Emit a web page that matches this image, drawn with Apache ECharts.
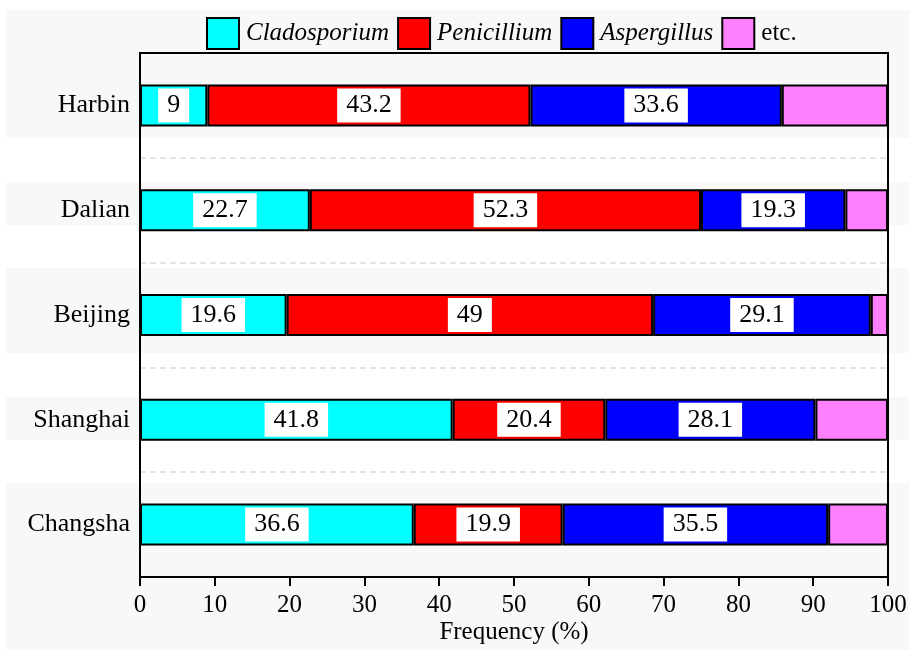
<!DOCTYPE html>
<html><head><meta charset="utf-8">
<script src="https://cdn.jsdelivr.net/npm/echarts@6/dist/echarts.min.js"></script>
<style>html,body{margin:0;padding:0;background:#fff}#c{width:909px;height:650px}</style>
</head><body><div id="c"></div>
<script>
const cities = ['Harbin','Dalian','Beijing','Shanghai','Changsha'];
const cladosporium = [9, 22.7, 19.6, 41.8, 36.6];
const penicillium = [43.2, 52.3, 49, 20.4, 19.9];
const aspergillus = [33.6, 19.3, 29.1, 28.1, 35.5];
const etc = [14.2, 5.7, 2.3, 9.7, 8.0];
const xTicks = [0,10,20,30,40,50,60,70,80,90,100];

const FONT = 'Liberation Serif';
const chart = echarts.init(document.getElementById('c'));
function mk(name, data, color, showLabel){
  return {
    name, type:'bar', stack:'t', data, barWidth: 42,
    itemStyle:{color, borderColor:'#000', borderWidth:2},
    label:{show:showLabel, position:'inside', color:'#000', fontFamily:FONT, fontSize:26,
      backgroundColor:'#fff', padding:[5,9,3,9]},
    emphasis:{disabled:true}
  };
}
const stripes = [[10,138],[182,225],[268,353],[397,440],[483,650]].map(s=>({
  type:'rect', left:6, top:s[0], z:-10, silent:true,
  shape:{x:0,y:0,width:903,height:s[1]-s[0]}, style:{fill:'#f8f8f8'}
}));
chart.setOption({
  animation:false,
  backgroundColor:'#fff',
  graphic: stripes,
  legend:{
    left:201, top:12, itemWidth:32, itemHeight:31, itemGap:8,
    icon:'rect',
    textStyle:{fontFamily:FONT, fontSize:25, color:'#000', padding:[0,0,0,2]},
    data:[
      {name:'Cladosporium', textStyle:{fontStyle:'italic'}},
      {name:'Penicillium', textStyle:{fontStyle:'italic'}},
      {name:'Aspergillus', textStyle:{fontStyle:'italic', padding:[0,12,0,2]}},
      {name:'etc.'}
    ]
  },
  grid:{left:140, right:21, top:53, bottom:73, outerBoundsMode:'none', containLabel:false,
    show:true, borderColor:'#000', borderWidth:2, backgroundColor:'transparent'},
  xAxis:{
    type:'value', min:0, max:100, interval:10,
    name:'Frequency (%)', nameLocation:'middle', nameGap:43, nameMoveOverlap:false,
    nameTextStyle:{fontFamily:FONT, fontSize:25, color:'#000'},
    axisLine:{show:true, lineStyle:{color:'#000', width:2}},
    axisTick:{show:true, length:9, lineStyle:{color:'#000', width:2}},
    axisLabel:{fontFamily:FONT, fontSize:25, color:'#000', margin:16,
      formatter:v=>xTicks.includes(v)?String(v):''},
    splitLine:{show:false}
  },
  yAxis:{
    type:'category', data:cities, inverse:true,
    axisLine:{show:true, lineStyle:{color:'#000', width:2}},
    axisTick:{show:false},
    axisLabel:{fontFamily:FONT, fontSize:26, color:'#000', margin:10},
    splitLine:{show:true, showMinLine:false, showMaxLine:false, lineStyle:{color:'#dcdcdc', type:[6,4], width:1.5}}
  },
  series:[
    mk('Cladosporium', cladosporium, '#00ffff', true),
    mk('Penicillium', penicillium, '#ff0000', true),
    mk('Aspergillus', aspergillus, '#0000ff', true),
    mk('etc.', etc, '#ff80ff', false)
  ]
});
</script></body></html>
